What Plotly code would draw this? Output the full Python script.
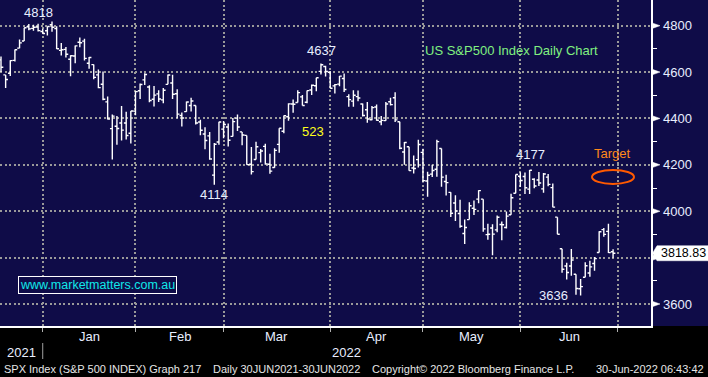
import plotly.graph_objects as go

# ---------------- data (SPX daily OHLC) ----------------
dates = [
    "2021-12-17", "2021-12-20", "2021-12-21", "2021-12-22", "2021-12-23", "2021-12-27", "2021-12-28", "2021-12-29", "2021-12-30", "2021-12-31",
    "2022-01-03", "2022-01-04", "2022-01-05", "2022-01-06", "2022-01-07", "2022-01-10", "2022-01-11", "2022-01-12", "2022-01-13", "2022-01-14",
    "2022-01-18", "2022-01-19", "2022-01-20", "2022-01-21", "2022-01-24", "2022-01-25", "2022-01-26", "2022-01-27", "2022-01-28", "2022-01-31",
    "2022-02-01", "2022-02-02", "2022-02-03", "2022-02-04", "2022-02-07", "2022-02-08", "2022-02-09", "2022-02-10", "2022-02-11", "2022-02-14",
    "2022-02-15", "2022-02-16", "2022-02-17", "2022-02-18", "2022-02-22", "2022-02-23", "2022-02-24", "2022-02-25", "2022-02-28",
    "2022-03-01", "2022-03-02", "2022-03-03", "2022-03-04", "2022-03-07", "2022-03-08", "2022-03-09", "2022-03-10", "2022-03-11", "2022-03-14",
    "2022-03-15", "2022-03-16", "2022-03-17", "2022-03-18", "2022-03-21", "2022-03-22", "2022-03-23", "2022-03-24", "2022-03-25", "2022-03-28",
    "2022-03-29", "2022-03-30", "2022-03-31",
    "2022-04-01", "2022-04-04", "2022-04-05", "2022-04-06", "2022-04-07", "2022-04-08", "2022-04-11", "2022-04-12", "2022-04-13", "2022-04-14",
    "2022-04-18", "2022-04-19", "2022-04-20", "2022-04-21", "2022-04-22", "2022-04-25", "2022-04-26", "2022-04-27", "2022-04-28", "2022-04-29",
    "2022-05-02", "2022-05-03", "2022-05-04", "2022-05-05", "2022-05-06", "2022-05-09", "2022-05-10", "2022-05-11", "2022-05-12", "2022-05-13",
    "2022-05-16", "2022-05-17", "2022-05-18", "2022-05-19", "2022-05-20", "2022-05-23", "2022-05-24", "2022-05-25", "2022-05-26", "2022-05-27",
    "2022-05-31",
    "2022-06-01", "2022-06-02", "2022-06-03", "2022-06-06", "2022-06-07", "2022-06-08", "2022-06-09", "2022-06-10", "2022-06-13", "2022-06-14",
    "2022-06-15", "2022-06-16", "2022-06-17", "2022-06-21", "2022-06-22", "2022-06-23", "2022-06-24", "2022-06-27", "2022-06-28", "2022-06-29",
]
opens = [
    4652.5, 4587.9, 4595.0, 4650.4, 4703.1, 4734.0, 4795.5, 4788.6, 4794.2, 4775.2,
    4778.1, 4804.5, 4788.0, 4693.4, 4697.7, 4655.3, 4669.1, 4728.6, 4733.6, 4638.0,
    4632.2, 4588.0, 4547.4, 4471.4, 4356.3, 4366.6, 4380.6, 4380.6, 4336.2, 4431.8,
    4519.6, 4566.4, 4535.4, 4482.8, 4505.8, 4480.0, 4547.0, 4553.2, 4506.3, 4412.6,
    4429.3, 4455.8, 4456.1, 4384.6, 4332.7, 4324.9, 4155.8, 4298.4, 4354.2,
    4363.1, 4322.6, 4401.3, 4342.1, 4327.0, 4202.7, 4223.1, 4252.6, 4279.5, 4202.8,
    4188.8, 4288.1, 4345.1, 4407.3, 4462.4, 4469.1, 4493.1, 4470.0, 4522.7, 4541.1,
    4602.9, 4624.2, 4599.0,
    4540.3, 4548.0, 4572.5, 4494.2, 4474.7, 4494.2, 4462.6, 4437.6, 4394.3, 4449.1,
    4385.6, 4390.6, 4472.3, 4489.2, 4385.8, 4255.3, 4278.1, 4186.5, 4222.6, 4253.8,
    4130.6, 4159.8, 4181.2, 4270.4, 4128.2, 4081.3, 4035.2, 3990.1, 3904.0, 3963.9,
    4013.0, 4052.0, 4052.0, 3899.0, 3927.8, 3919.4, 3942.9, 3929.6, 3984.6, 4077.4,
    4151.1,
    4149.8, 4095.4, 4137.6, 4134.7, 4096.5, 4147.1, 4101.7, 3974.4, 3838.2, 3763.5,
    3764.0, 3728.2, 3665.9, 3715.3, 3733.9, 3774.7, 3821.8, 3920.8, 3913.0, 3825.1,
]
highs = [
    4666.7, 4587.9, 4651.1, 4697.7, 4740.7, 4791.5, 4807.0, 4804.1, 4808.9, 4786.8,
    4796.6, 4818.6, 4797.7, 4725.0, 4708.0, 4673.0, 4714.1, 4748.8, 4744.1, 4665.1,
    4632.2, 4611.6, 4602.1, 4494.5, 4417.4, 4411.0, 4453.2, 4428.7, 4432.7, 4516.9,
    4550.5, 4595.3, 4542.9, 4539.7, 4521.9, 4531.3, 4590.0, 4588.9, 4526.3, 4426.2,
    4472.8, 4489.6, 4456.1, 4394.6, 4362.1, 4341.5, 4294.7, 4385.3, 4388.8,
    4378.5, 4401.5, 4416.8, 4342.1, 4327.0, 4276.9, 4299.4, 4268.3, 4291.0, 4247.6,
    4271.1, 4358.0, 4412.7, 4465.4, 4481.8, 4522.0, 4501.1, 4520.6, 4546.0, 4575.7,
    4637.3, 4627.8, 4603.1,
    4548.7, 4583.5, 4593.5, 4503.9, 4521.2, 4520.4, 4464.4, 4471.0, 4453.9, 4460.5,
    4410.3, 4471.0, 4489.2, 4512.9, 4385.8, 4299.0, 4278.1, 4240.7, 4308.5, 4269.7,
    4169.8, 4200.1, 4307.7, 4270.4, 4157.7, 4081.3, 4068.8, 4049.1, 3964.8, 4038.9,
    4046.5, 4090.7, 4052.0, 3946.0, 3943.4, 3981.9, 3955.7, 3999.3, 4075.1, 4158.5,
    4168.3,
    4166.5, 4177.5, 4142.7, 4168.8, 4164.9, 4160.1, 4119.1, 3974.4, 3838.2, 3778.2,
    3837.6, 3728.2, 3707.7, 3779.7, 3786.0, 3802.6, 3913.7, 3927.7, 3945.9, 3836.5,
]
lows = [
    4600.2, 4531.1, 4583.2, 4645.5, 4703.1, 4734.0, 4780.0, 4778.1, 4775.3, 4765.8,
    4758.2, 4774.3, 4699.4, 4671.3, 4662.7, 4582.2, 4638.3, 4706.7, 4650.3, 4614.8,
    4568.7, 4530.2, 4478.0, 4395.3, 4222.6, 4287.1, 4304.8, 4309.5, 4292.5, 4414.0,
    4483.5, 4544.3, 4470.4, 4451.5, 4471.5, 4465.4, 4547.0, 4484.3, 4401.4, 4364.8,
    4429.3, 4429.7, 4373.8, 4327.2, 4267.1, 4221.5, 4114.7, 4286.8, 4315.1,
    4279.5, 4322.6, 4345.6, 4285.0, 4199.9, 4157.9, 4223.1, 4209.8, 4200.5, 4161.7,
    4187.9, 4252.0, 4335.7, 4390.6, 4424.3, 4469.1, 4455.8, 4465.2, 4501.1, 4517.7,
    4589.7, 4581.3, 4530.4,
    4507.6, 4539.2, 4514.2, 4450.0, 4450.3, 4474.6, 4408.4, 4381.3, 4392.7, 4390.0,
    4370.3, 4390.6, 4455.8, 4384.5, 4267.6, 4200.8, 4175.0, 4162.9, 4188.6, 4124.3,
    4062.5, 4147.1, 4148.9, 4106.0, 4067.9, 3975.5, 3958.2, 3928.8, 3858.9, 3963.9,
    3984.0, 4033.9, 3911.9, 3876.6, 3810.3, 3909.0, 3875.1, 3925.0, 3984.6, 4077.4,
    4104.9,
    4073.9, 4074.4, 4098.7, 4109.2, 4080.2, 4107.2, 4017.2, 3900.2, 3734.3, 3705.7,
    3722.3, 3639.8, 3636.9, 3715.3, 3717.7, 3743.5, 3821.8, 3889.7, 3820.1, 3799.0,
]
closes = [
    4620.6, 4568.0, 4649.2, 4696.6, 4725.8, 4791.2, 4786.4, 4793.1, 4778.7, 4766.2,
    4796.6, 4793.5, 4700.6, 4696.1, 4677.0, 4670.3, 4713.1, 4726.4, 4659.0, 4662.9,
    4577.1, 4532.8, 4482.7, 4397.9, 4410.1, 4356.5, 4349.9, 4326.5, 4431.9, 4515.6,
    4546.5, 4589.4, 4477.4, 4500.5, 4483.9, 4521.5, 4587.2, 4504.1, 4418.6, 4401.7,
    4471.1, 4475.0, 4380.3, 4348.9, 4304.8, 4225.5, 4288.7, 4384.7, 4373.9,
    4306.3, 4386.5, 4363.5, 4328.9, 4201.1, 4170.7, 4277.9, 4259.5, 4204.3, 4173.1,
    4262.5, 4357.9, 4411.7, 4463.1, 4461.2, 4511.6, 4456.2, 4520.2, 4543.1, 4575.5,
    4631.6, 4602.5, 4530.4,
    4545.9, 4582.6, 4525.1, 4481.2, 4500.2, 4488.3, 4412.5, 4397.5, 4446.6, 4392.6,
    4391.7, 4462.2, 4459.5, 4393.7, 4271.8, 4296.1, 4175.2, 4184.0, 4287.5, 4131.9,
    4155.4, 4175.5, 4300.2, 4146.9, 4123.3, 3991.2, 4001.1, 3935.2, 3930.1, 4023.9,
    4008.0, 4088.9, 3923.7, 3900.8, 3901.4, 3973.8, 3941.5, 3978.7, 4057.8, 4158.2,
    4132.2,
    4101.2, 4176.8, 4108.5, 4121.4, 4160.7, 4115.8, 4017.8, 3900.9, 3749.6, 3735.5,
    3790.0, 3666.8, 3674.8, 3764.8, 3759.9, 3795.7, 3911.7, 3900.1, 3821.6, 3818.83,
]

y_ticks = [3600, 3800, 4000, 4200, 4400, 4600, 4800]
y_minor = [3700, 3900, 4100, 4300, 4500, 4700]
month_labels = ["Jan", "Feb", "Mar", "Apr", "May", "Jun"]
year_labels = ["2021", "2022"]
target_level = 4148

# ---------------- layout constants ----------------
W, H = 708, 377
PR, PB = 651, 326            # plot area right edge / bottom edge in px
x_range = [-0.216, 140.18]
y_range = [3505.1, 4910.8]
NAVY = "#0f0c48"
GRID = "#9a9a9a"
LABEL = "#e8eeff"
FONT = "Liberation Sans, Arial, sans-serif"


def px(xp):
    return xp / PR


def py(yp):
    return 1 - yp / PB


def yv(v):
    return (v - y_range[0]) / (y_range[1] - y_range[0])


def xv(i):
    return (i - x_range[0]) / (x_range[1] - x_range[0])


idx = list(range(len(dates)))
month_end = [i for i in range(len(dates) - 1) if dates[i][5:7] != dates[i + 1][5:7]] + [len(dates)]
month_mid = [(month_end[k] + month_end[k + 1]) / 2 for k in range(len(month_end) - 1)]
year_mid = [(x_range[0] + month_end[0]) / 2, (month_end[0] + x_range[1]) / 2]

last = closes[-1]
# tick labels hidden by the last-price tag are left blank
y_ticktext = ["" if abs(v - last) < 40 else str(v) for v in y_ticks]

fig = go.Figure()
fig.add_trace(go.Ohlc(
    x=idx, open=opens, high=highs, low=lows, close=closes,
    increasing=dict(line=dict(color="white", width=1.4)),
    decreasing=dict(line=dict(color="white", width=1.4)),
    tickwidth=0.5, hoverinfo="skip", showlegend=False,
))

shapes = []
# black strip below the plot
shapes.append(dict(type="rect", xref="paper", yref="paper", x0=-0.01, x1=W / PR + 0.01,
                   y0=py(H + 2), y1=0, fillcolor="black", line=dict(width=0), layer="below"))
# arrow markers on y axis
for v in y_ticks:
    yc = yv(v)
    h = 3 / PB
    shapes.append(dict(type="path", xref="paper", yref="paper",
                       path=f"M {px(651.5)},{yc - h} L {px(660)},{yc} L {px(651.5)},{yc + h} Z",
                       fillcolor="white", line=dict(color="white", width=0.5)))
# last price tag
yc = yv(last)
hh = 7.5 / PB
shapes.append(dict(type="path", xref="paper", yref="paper",
                   path=(f"M {px(652.5)},{yc} L {px(657)},{yc + hh} L {px(708)},{yc + hh} "
                         f"L {px(708)},{yc - hh} L {px(657)},{yc - hh} Z"),
                   fillcolor="white", line=dict(color="white", width=0.5)))
# year divider
shapes.append(dict(type="line", xref="paper", yref="paper", x0=xv(month_end[0]), x1=xv(month_end[0]),
                   y0=py(343), y1=py(359), line=dict(color="#a0a0a0", width=1)))
# target ellipse
ty = yv(target_level)
shapes.append(dict(type="circle", xref="paper", yref="paper", x0=px(592), x1=px(634),
                   y0=ty - 7 / PB, y1=ty + 7 / PB, line=dict(color="#ff5a00", width=2)))

ann = []


def add(text, x, y, color=LABEL, size=13, xanchor="center", **kw):
    ann.append(dict(text=text, x=x, y=y, xref="paper", yref="paper", showarrow=False,
                    xanchor=xanchor, yanchor="middle", font=dict(family=FONT, size=size, color=color), **kw))


add("4818", px(38), py(12))
add("4637", px(321), py(51))
add("523", px(313), py(131), color="#ffff1a")
add("US S&P500 Index Daily Chart", px(423), py(50), color="#80f080", xanchor="left")
add("4114", px(214), py(194))
add("4177", px(530), py(155))
add("Target", px(612), py(154), color="#ff8a1a")
add("3636", px(553), py(295))
add("www.marketmatters.com.au", px(97), py(285), color="#10e8e8", size=12.5,
    bordercolor="white", borderwidth=1, borderpad=1, bgcolor=NAVY)
add(f"{last:.2f}", px(659), yc, color="black", size=12.5, xanchor="left")
for lab, m in zip(month_labels, month_mid):
    add(lab, xv(m), py(336))
for lab, m in zip(year_labels, year_mid):
    add(lab, xv(m), py(352))
add("SPX Index (S&P 500 INDEX) Graph 217", px(2), py(369), color="#e6e6e6", size=11, xanchor="left")
add("Daily 30JUN2021-30JUN2022", px(211), py(369), color="#e6e6e6", size=11, xanchor="left")
add("Copyright\u00a9 2022 Bloomberg Finance L.P.", px(370), py(369), color="#e6e6e6", size=11, xanchor="left")
add("30-Jun-2022 06:43:42", px(706), py(369), color="#e6e6e6", size=11, xanchor="right")

fig.update_layout(
    width=W, height=H, autosize=False,
    margin=dict(l=0, r=W - PR, t=0, b=H - PB, pad=0),
    paper_bgcolor=NAVY, plot_bgcolor=NAVY,
    showlegend=False, shapes=shapes, annotations=ann,
    xaxis=dict(range=x_range, rangeslider=dict(visible=False), showgrid=True, gridcolor=GRID,
               gridwidth=2, griddash="2px,2.5px", tickmode="array", tickvals=month_end,
               ticktext=[""] * len(month_end), ticks="outside", ticklen=4, tickcolor="#b0b0b0",
               showline=True, linecolor="white", linewidth=1.5, zeroline=False, fixedrange=True),
    yaxis=dict(range=y_range, side="right", showgrid=True, gridcolor=GRID, gridwidth=2,
               griddash="2px,2.5px", tickmode="array", tickvals=y_ticks,
               ticktext=y_ticktext, ticks="outside", ticklen=8,
               tickcolor="rgba(0,0,0,0)", tickfont=dict(family=FONT, size=13, color=LABEL),
               minor=dict(tickmode="array", tickvals=y_minor, ticks="outside", ticklen=4,
                          tickcolor="white", tickwidth=1, showgrid=False),
               showline=True, linecolor="white", linewidth=1.5, zeroline=False, fixedrange=True),
)

fig.write_html(
    "out.html",
    config={"displayModeBar": False, "staticPlot": True},
    post_script="document.body.style.margin='0';document.body.style.overflow='hidden';",
)
